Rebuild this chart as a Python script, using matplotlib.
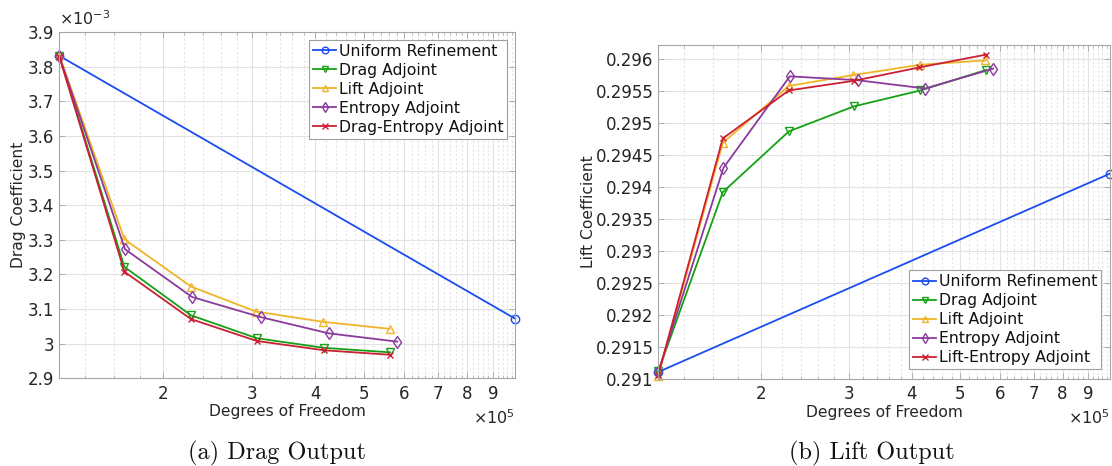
import numpy as np
import matplotlib
matplotlib.use("Agg")
import matplotlib.pyplot as plt
from matplotlib.ticker import FixedLocator, FuncFormatter, NullFormatter

plt.rcParams['font.family'] = ['DejaVu Sans']
plt.rcParams['mathtext.fontset'] = 'dejavusans'

# ---------------- data ----------------
dof_uniform = [1.245e5, 9.95e5]
dof_drag = [1.245e5, 1.675e5, 2.27e5, 3.06e5, 4.16e5, 5.63e5]
dof_lift = [1.245e5, 1.675e5, 2.27e5, 3.05e5, 4.15e5, 5.61e5]
dof_entropy = [1.245e5, 1.68e5, 2.28e5, 3.115e5, 4.25e5, 5.81e5]
dof_drag_entropy = [1.245e5, 1.675e5, 2.27e5, 3.06e5, 4.16e5, 5.63e5]
dof_lift_entropy = [1.245e5, 1.675e5, 2.27e5, 3.06e5, 4.14e5, 5.63e5]

cd_uniform = [3.832e-3, 3.072e-3]
cd_drag = [3.832e-3, 3.222e-3, 3.082e-3, 3.016e-3, 2.988e-3, 2.975e-3]
cd_lift = [3.834e-3, 3.302e-3, 3.165e-3, 3.093e-3, 3.063e-3, 3.043e-3]
cd_entropy = [3.831e-3, 3.273e-3, 3.135e-3, 3.077e-3, 3.030e-3, 3.006e-3]
cd_drag_entropy = [3.830e-3, 3.208e-3, 3.071e-3, 3.008e-3, 2.981e-3, 2.968e-3]

cl_uniform = [0.29111, 0.29421]
cl_drag = [0.29112, 0.29392, 0.29487, 0.29526, 0.29551, 0.29583]
cl_lift = [0.29105, 0.29469, 0.29558, 0.29575, 0.29591, 0.29598]
cl_entropy = [0.29111, 0.29430, 0.29573, 0.29567, 0.29554, 0.29585]
cl_lift_entropy = [0.29107, 0.29476, 0.29551, 0.29566, 0.29587, 0.29607]

labels_drag = ["Uniform Refinement", "Drag Adjoint", "Lift Adjoint",
               "Entropy Adjoint", "Drag-Entropy Adjoint"]
labels_lift = ["Uniform Refinement", "Drag Adjoint", "Lift Adjoint",
               "Entropy Adjoint", "Lift-Entropy Adjoint"]

xtick_vals = [2e5, 3e5, 4e5, 5e5, 6e5, 7e5, 8e5, 9e5]
xtick_labels = ["2", "3", "4", "5", "6", "7", "8", "9"]
xlim = (1.245e5, 9.95e5)

cd_ticks = [2.9e-3, 3.0e-3, 3.1e-3, 3.2e-3, 3.3e-3, 3.4e-3, 3.5e-3, 3.6e-3, 3.7e-3, 3.8e-3, 3.9e-3]
cl_ticks = [0.291, 0.2915, 0.292, 0.2925, 0.293, 0.2935, 0.294, 0.2945, 0.295, 0.2955, 0.296]

# ---------------- style ----------------
colors = ['#1a4cf0', '#16a016', '#f0b428', '#8a3a9c', '#cc1f33']
markers = ['o', 'v', '^', 'd', 'x']
msizes = [6, 6.2, 6.2, 6.2, 4.8]
TXT = '#262626'
SPINE = '#a6a6a6'

fig = plt.figure(figsize=(11.12, 4.66), dpi=100)
W, H = 1112, 466
ax1 = fig.add_axes([59.3 / W, 1 - 378.3 / H, 456 / W, 346 / H])
ax2 = fig.add_axes([658.3 / W, 1 - 379 / H, 451.7 / W, 334 / H])


def style_axes(ax):
    ax.set_xscale('log')
    ax.set_xlim(*xlim)
    ax.xaxis.set_major_locator(FixedLocator(xtick_vals))
    ax.xaxis.set_major_formatter(FuncFormatter(
        lambda v, p: xtick_labels[xtick_vals.index(v)] if v in xtick_vals else ''))
    minors = [m for m in np.arange(1.4e5, 9.95e5, 0.2e5)
              if abs(m / 1e5 - round(m / 1e5)) > 1e-6]
    ax.xaxis.set_minor_locator(FixedLocator(minors))
    ax.xaxis.set_minor_formatter(NullFormatter())
    ax.set_axisbelow(True)
    ax.grid(True, which='major', color='#e2e2e2', lw=0.8)
    ax.grid(True, which='minor', axis='x', color='#e4e4e4', lw=0.8, ls=(0, (2, 2)))
    for s in ax.spines.values():
        s.set_color(SPINE)
        s.set_linewidth(0.8)
    ax.tick_params(which='both', direction='in', top=True, right=True,
                   colors=SPINE, labelcolor=TXT, labelsize=12)
    ax.tick_params(which='major', length=4, width=0.6)
    ax.tick_params(which='minor', length=2.5, width=0.5)
    ax.tick_params(axis='x', pad=4.5)
    ax.tick_params(axis='y', pad=3.5)
    ax.set_xlabel("Degrees of Freedom", fontsize=11.2, color=TXT, labelpad=1)
    ax.text(1.0, -0.115, r'$\times10^{5}$', transform=ax.transAxes,
            ha='right', va='center', fontsize=11.5, color=TXT)


def draw(ax, xs, ys, labels):
    for x, y, lab, c, m, s in zip(xs, ys, labels, colors, markers, msizes):
        ax.plot(x, y, color=c, marker=m, mfc='none', mec=c, ms=s, mew=1.0,
                lw=1.3, label=lab, clip_on=False)


draw(ax1, [dof_uniform, dof_drag, dof_lift, dof_entropy, dof_drag_entropy],
     [cd_uniform, cd_drag, cd_lift, cd_entropy, cd_drag_entropy], labels_drag)
draw(ax2, [dof_uniform, dof_drag, dof_lift, dof_entropy, dof_lift_entropy],
     [cl_uniform, cl_drag, cl_lift, cl_entropy, cl_lift_entropy], labels_lift)

style_axes(ax1)
style_axes(ax2)

ax1.set_ylim(2.9e-3, 3.9e-3)
ax1.yaxis.set_major_locator(FixedLocator(cd_ticks))
ax1.yaxis.set_major_formatter(FuncFormatter(lambda v, p: f'{v * 1e3:.6g}'))
ax1.set_ylabel("Drag Coefficient", fontsize=11.2, color=TXT)
ax1.yaxis.set_label_coords(-0.072, 0.5)
ax1.text(0.0, 1.012, r'$\times10^{-3}$', transform=ax1.transAxes,
         ha='left', va='bottom', fontsize=11.5, color=TXT)

ax2.set_ylim(0.291, 0.29622)
ax2.yaxis.set_major_locator(FixedLocator(cl_ticks))
ax2.yaxis.set_major_formatter(FuncFormatter(lambda v, p: f'{v:.6g}'))
ax2.set_ylabel("Lift Coefficient", fontsize=11.2, color=TXT)
ax2.yaxis.set_label_coords(-0.139, 0.5)

leg_kw = dict(fontsize=11.3, frameon=True, fancybox=False, borderaxespad=0,
              handlelength=1.5, handletextpad=0.15, labelspacing=0.25,
              borderpad=0.25, framealpha=1, edgecolor='#a0a0a0',
              markerscale=0.8)
l1 = ax1.legend(loc='upper right', bbox_to_anchor=(0.9825, 0.9777), **leg_kw)
l2 = ax2.legend(loc='lower right', bbox_to_anchor=(0.980, 0.030), **leg_kw)
for lg in (l1, l2):
    lg.get_frame().set_linewidth(0.8)
    for t in lg.get_texts():
        t.set_color('#111111')

fig.text(277 / W, 1 - 453 / H, "(a) Drag Output", ha='center', va='center',
         fontsize=17.5, family='cmr10', color='#111111')
fig.text(872 / W, 1 - 453 / H, "(b) Lift Output", ha='center', va='center',
         fontsize=17.5, family='cmr10', color='#111111')

fig.savefig("out.png", dpi=100)
